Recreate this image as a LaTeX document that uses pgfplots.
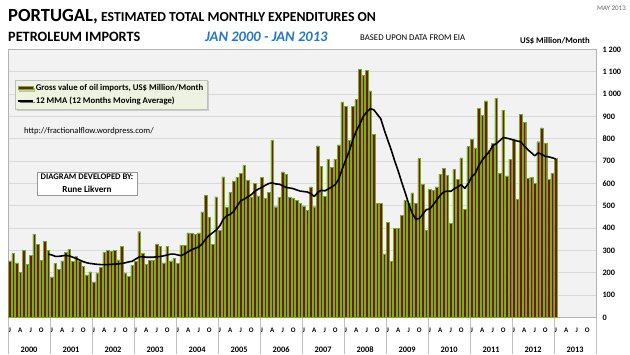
\documentclass[border=0pt]{standalone}
\usepackage{pgfplots}
\pgfplotsset{compat=1.18}
\usepackage{pgfplotstable}
\usepackage{fontspec}
\setmainfont{Carlito}
\usetikzlibrary{shadows}
\definecolor{barfill}{HTML}{701A10}
\definecolor{baredge}{HTML}{74B01C}
\definecolor{plotbg}{HTML}{F2F2F2}
\definecolor{gridc}{HTML}{D9D9D9}
\definecolor{legbg}{HTML}{EEF2E0}
\definecolor{titleblue}{HTML}{1F78C8}
\newcommand{\fs}[1]{\fontsize{#1}{#1}\selectfont}
\pgfplotstableread{
i v
0 254
1 287
2 245
3 201
4 301
5 239
6 279
7 373
8 327
9 257
10 340
11 300
12 182
13 242
14 216
15 254
16 293
17 306
18 251
19 275
20 251
21 230
22 191
23 204
24 160
25 200
26 225
27 292
28 302
29 296
30 300
31 258
32 318
33 200
34 183
35 235
36 250
37 384
38 287
39 237
40 257
41 257
42 327
43 320
44 245
45 318
46 254
47 265
48 242
49 324
50 324
51 379
52 376
53 373
54 379
55 473
56 548
57 448
58 329
59 540
60 391
61 630
62 493
63 560
64 611
65 627
66 645
67 682
68 615
69 540
70 600
71 545
72 627
73 533
74 560
75 794
76 496
77 537
78 652
79 641
80 537
81 533
82 526
83 510
84 500
85 480
86 585
87 496
88 768
89 678
90 541
91 709
92 672
93 709
94 773
95 966
96 947
97 794
98 947
99 977
100 1112
101 1085
102 1108
103 1015
104 821
105 511
106 511
107 285
108 427
109 251
110 399
111 399
112 458
113 526
114 510
115 558
116 512
117 712
118 595
119 390
120 573
121 570
122 585
123 641
124 668
125 638
126 422
127 663
128 618
129 715
130 484
131 765
132 799
133 760
134 936
135 906
136 970
137 747
138 779
139 981
140 645
141 929
142 634
143 709
144 792
145 528
146 911
147 873
148 622
149 627
150 600
151 787
152 849
153 779
154 618
155 645
156 712
}\gross
\pgfplotstableread{
i v
11 284
12 280
13 274
14 274
15 276
16 278
17 276
18 270
19 264
20 257
21 250
22 245
23 242
24 240
25 238
26 237
27 237
28 237
29 238
30 239
31 240
32 242
33 245
34 249
35 252
36 262
37 271
38 272
39 270
40 270
41 270
42 272
43 273
44 276
45 280
46 284
47 284
48 280
49 277
50 285
51 295
52 304
53 310
54 316
55 330
56 352
57 368
58 380
59 392
60 410
61 440
62 455
63 462
64 475
65 500
66 523
67 530
68 540
69 550
70 565
71 575
72 582
73 592
74 600
75 603
76 598
77 597
78 590
79 582
80 580
81 577
82 571
83 566
84 564
85 562
86 555
87 542
88 560
89 570
90 567
91 575
92 585
93 595
94 620
95 665
96 705
97 745
98 795
99 835
100 865
101 900
102 920
103 935
104 930
105 910
106 890
107 840
108 794
109 750
110 700
111 655
112 605
113 558
114 508
115 466
116 441
117 443
118 462
119 483
120 486
121 505
122 526
123 548
124 562
125 566
126 565
127 576
128 585
129 595
130 578
131 600
132 630
133 645
134 680
135 705
136 725
137 742
138 770
139 778
140 792
141 806
142 803
143 799
144 795
145 790
146 787
147 768
148 752
149 738
150 724
151 738
152 730
153 722
154 719
155 715
156 710
}\mma
\begin{document}
\begin{tikzpicture}[x=1bp,y=1bp]
\useasboundingbox (0,0) rectangle (630,354);
\begin{axis}[
  at={(8bp,36.5bp)}, anchor=south west,
  scale only axis, width=588bp, height=268bp,
  xmin=-0.5, xmax=167.5, ymin=0, ymax=1200,
  clip=false,
  axis background/.style={fill=plotbg},
  axis line style={draw=black!30, line width=0.6pt},
  major tick length=0pt,
  ytick={0,100,...,1200},
  yticklabel pos=right,
  ymajorgrids, grid style={draw=gridc, line width=0.7pt},
  xtick={0,3,...,165},
  xticklabels={J,A,J,O,J,A,J,O,J,A,J,O,J,A,J,O,J,A,J,O,J,A,J,O,J,A,J,O,J,A,J,O,J,A,J,O,J,A,J,O,J,A,J,O,J,A,J,O,J,A,J,O,J,A,J,O},
  extra x ticks={5.5,17.5,29.5,41.5,53.5,65.5,77.5,89.5,101.5,113.5,125.5,137.5,149.5,161.5},
  extra x tick labels={2000,2001,2002,2003,2004,2005,2006,2007,2008,2009,2010,2011,2012,2013},
  extra x tick style={grid=none, major tick length=0pt, xticklabel style={yshift=-19bp, font=\bfseries\fs{8.4}}},
  /pgf/number format/assume math mode=true,
  /pgf/number format/1000 sep={\ },
  yticklabel style={font=\bfseries\fs{8.3}, anchor=west, xshift=3bp},
  xticklabel style={font=\bfseries\fs{7}, yshift=-6.5bp},
  legend style={at={(rel axis cs:0.012,0.888)}, anchor=north west, fill=legbg, draw=black!25,
    drop shadow={shadow xshift=1.5bp, shadow yshift=-1.5bp, fill=black!35},
    font=\bfseries\fs{8.8}, row sep=1bp, inner xsep=2bp, inner ysep=2.5bp},
  legend cell align=left,
]
\addplot[ybar, bar width=0.82, fill=barfill, draw=baredge, line width=0.4pt,
  legend image code/.code={\draw[fill=barfill, draw=baredge, line width=0.8pt] (0bp,-1.8bp) rectangle (15bp,1.8bp);}]
  table[x=i,y=v]{\gross};
\addlegendentry{Gross value of oil imports, US\$ Million/Month}
\addplot[black, line width=1.6pt, line join=round,
  legend image code/.code={\draw[black, line width=1.6pt] (0bp,0bp) -- (15bp,0bp);}]
  table[x=i,y=v]{\mma};
\addlegendentry{12 MMA (12 Months Moving Average)}
\pgfplotsinvokeforeach{0,...,14}{\draw[black!25, line width=0.6pt] (axis cs:{12*#1-0.5},0) -- ++(0bp,-36.5bp);}
\end{axis}
\node[anchor=base west, inner sep=0] at (8,333) {\bfseries\fs{18.6}PORTUGAL,\fs{13.8} ESTIMATED TOTAL MONTHLY EXPENDITURES ON};
\node[anchor=base west, inner sep=0] at (8,313) {\bfseries\fs{14.3}PETROLEUM IMPORTS};
\node[anchor=base west, inner sep=0] at (205,313) {\bfseries\itshape\fs{14.6}\color{titleblue}JAN 2000 - JAN 2013};
\node[anchor=base west, inner sep=0] at (360,314) {\fs{8.8}BASED UPON DATA FROM EIA};
\node[anchor=base east, inner sep=0] at (590,311) {\bfseries\fs{8.7}US\$ Million/Month};
\node[anchor=base east, inner sep=0] at (626,344) {\fs{7}\color{black!60}MAY 2013};
\node[anchor=west, inner sep=0] at (24,223) {\fs{8.6}http://fractionalflow.wordpress.com/};
\node[draw=black!40, fill=white, align=center, inner sep=1bp, minimum width=100bp, minimum height=23bp] at (87,170.5) {\bfseries\fs{8.6}DIAGRAM DEVELOPED BY:\\[1bp]\bfseries\fs{9.2}Rune Likvern};
\end{tikzpicture}
\end{document}
